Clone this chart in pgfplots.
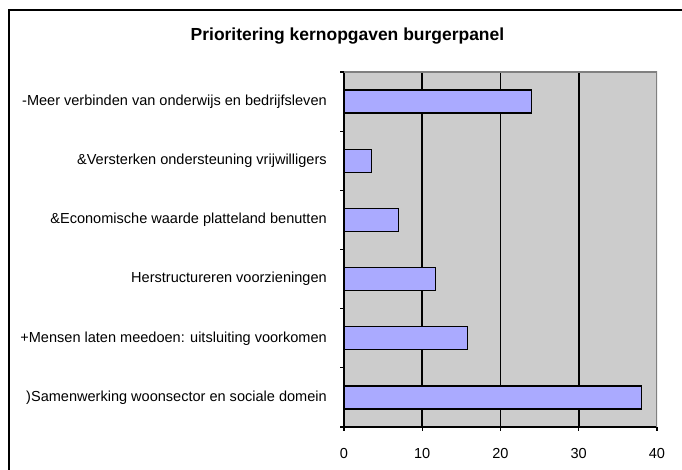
\documentclass[border=0pt]{standalone}
\usepackage{fontspec}
\setmainfont{Liberation Sans}
\usepackage{pgfplots}
\pgfplotsset{compat=1.18}
\definecolor{barblue}{HTML}{AAAAFF}
\definecolor{plotgray}{HTML}{CCCCCC}
\definecolor{bordergray}{HTML}{808080}
\begin{document}
\begin{tikzpicture}
\path[use as bounding box] (0,0) rectangle (511.5pt,352.5pt);
\begin{scope}
\clip (0,0) rectangle (511.5pt,352.5pt);
\draw[line width=1.5pt] (6.75pt,345pt) rectangle (530pt,-20pt);
\end{scope}
\node[font=\bfseries\fontsize{13.1}{15}\selectfont] at (260.6pt,325.5pt) {Prioritering kernopgaven burgerpanel};
\begin{axis}[
  at={(258pt,32.25pt)}, anchor=south west,
  scale only axis, width=234.75pt, height=266.25pt,
  xbar, bar width=17.25pt, bar shift=0pt,
  xmin=0, xmax=40, ymin=-0.5, ymax=5.5,
  axis x line*=bottom, axis y line*=left,
  axis line style={line width=1.1pt, -},
  axis background/.style={fill=plotgray},
  tick align=outside, major tick length=3pt,
  tick style={black, line width=0.9pt},
  xtick={0,10,20,30,40},
  xticklabel style={font=\fontsize{10.9}{13}\selectfont, anchor=north, inner sep=0pt, yshift=-12.5pt},
  /pgf/number format/assume math mode=true,
  extra x ticks={10,20,30}, extra x tick labels={},
  extra x tick style={grid=major, major tick length=0pt},
  grid style={black, line width=1.2pt},
  ytick={-0.5,0.5,1.5,2.5,3.5,4.5,5.5}, yticklabels={},
  extra y ticks={0,1,2,3,4,5},
  extra y tick labels={{)Samenwerking woonsector en sociale domein},{+Mensen laten meedoen: uitsluiting voorkomen},{Herstructureren voorzieningen},{\&Economische waarde platteland benutten},{\&Versterken ondersteuning vrijwilligers},{-Meer verbinden van onderwijs en bedrijfsleven}},
  extra y tick style={major tick length=0pt, yticklabel style={font=\fontsize{10.9}{13}\selectfont, anchor=east, inner sep=0pt, xshift=-12.75pt}},
]
\addplot[fill=barblue, draw=black, line width=1pt] coordinates {(38,0) (15.8,1) (11.7,2) (7.0,3) (3.5,4) (24,5)};
\draw[bordergray, line width=1.1pt] (rel axis cs:0,1) -- (rel axis cs:1,1) -- (rel axis cs:1,0);
\end{axis}
\end{tikzpicture}
\end{document}
